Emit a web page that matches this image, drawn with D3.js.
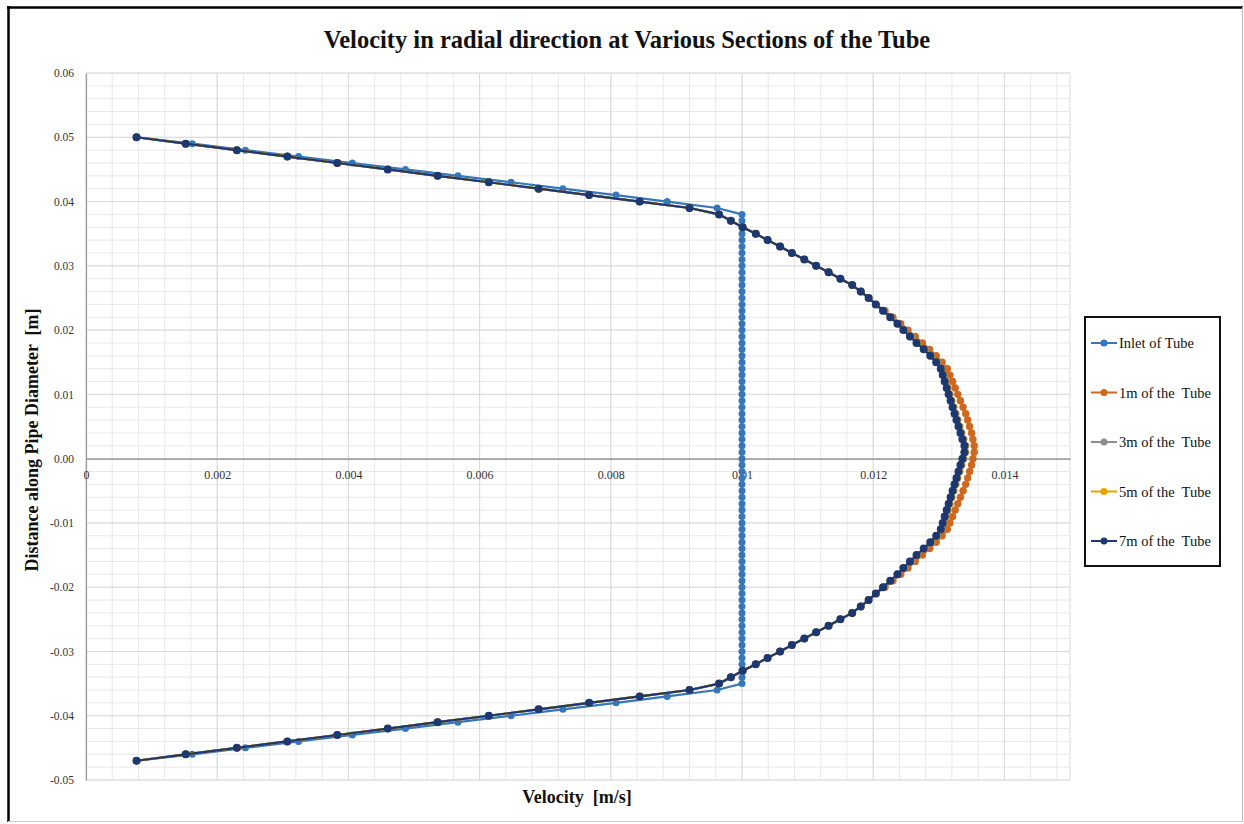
<!DOCTYPE html>
<html>
<head>
<meta charset="utf-8">
<script src="https://cdn.jsdelivr.net/npm/d3@7"></script>
<style>
  html, body { margin: 0; padding: 0; background: #fff; }
  svg { display: block; }
</style>
</head>
<body>
<svg id="chart" width="1244" height="824"></svg>
<script>
// ---------------- DATA ----------------
const seriesNames = ["Inlet of Tube", "1m of the  Tube", "3m of the  Tube", "5m of the  Tube", "7m of the  Tube"];
const seriesColors = ["#3577b8", "#d0671f", "#8e8e8e", "#e3a500", "#1d3870"];

// position along pipe diameter [m]
const positions = [
  0.050,0.049,0.048,0.047,0.046,0.045,0.044,0.043,0.042,0.041,
  0.040,0.039,0.038,0.037,0.036,0.035,0.034,0.033,0.032,0.031,
  0.030,0.029,0.028,0.027,0.026,0.025,0.024,0.023,0.022,0.021,
  0.020,0.019,0.018,0.017,0.016,0.015,0.014,0.013,0.012,0.011,
  0.010,0.009,0.008,0.007,0.006,0.005,0.004,0.003,0.002,0.001,
  0.000,-0.001,-0.002,-0.003,-0.004,-0.005,-0.006,-0.007,-0.008,-0.009,
  -0.010,-0.011,-0.012,-0.013,-0.014,-0.015,-0.016,-0.017,-0.018,-0.019,
  -0.020,-0.021,-0.022,-0.023,-0.024,-0.025,-0.026,-0.027,-0.028,-0.029,
  -0.030,-0.031,-0.032,-0.033,-0.034,-0.035,-0.036,-0.037,-0.038,-0.039,
  -0.040,-0.041,-0.042,-0.043,-0.044,-0.045,-0.046,-0.047
];

const velInlet = [
  0.00077,0.00162,0.00243,0.00324,0.00406,0.00487,0.00567,0.00648,0.00727,0.00808,
  0.00886,0.00962,0.0100,0.0100,0.0100,0.0100,0.0100,0.0100,0.0100,0.0100,
  0.0100,0.0100,0.0100,0.0100,0.0100,0.0100,0.0100,0.0100,0.0100,0.0100,
  0.0100,0.0100,0.0100,0.0100,0.0100,0.0100,0.0100,0.0100,0.0100,0.0100,
  0.0100,0.0100,0.0100,0.0100,0.0100,0.0100,0.0100,0.0100,0.0100,0.0100,
  0.0100,0.0100,0.0100,0.0100,0.0100,0.0100,0.0100,0.0100,0.0100,0.0100,
  0.0100,0.0100,0.0100,0.0100,0.0100,0.0100,0.0100,0.0100,0.0100,0.0100,
  0.0100,0.0100,0.0100,0.0100,0.0100,0.0100,0.0100,0.0100,0.0100,0.0100,
  0.0100,0.0100,0.0100,0.0100,0.0100,0.0100,0.00962,0.00886,0.00808,0.00727,
  0.00648,0.00567,0.00487,0.00406,0.00324,0.00243,0.00162,0.00077
];

const vel1m = [
  0.00077,0.00152,0.00230,0.00307,0.00383,0.00460,0.00536,0.00614,0.00690,0.00767,
  0.00844,0.00920,0.00965,0.00983,0.01001,0.01021,0.01039,0.01058,0.01076,0.01095,
  0.01113,0.01132,0.01150,0.01168,0.01181,0.01193,0.01204,0.01218,0.01230,0.01242,
  0.01253,0.01264,0.01275,0.01286,0.01296,0.01305,0.01313,0.01317,0.01321,0.01325,
  0.01329,0.01333,0.01337,0.01341,0.01344,0.01347,0.01350,0.01352,0.01354,0.01354,
  0.01352,0.01350,0.01347,0.01344,0.01341,0.01337,0.01333,0.01329,0.01325,0.01321,
  0.01317,0.01313,0.01305,0.01296,0.01286,0.01275,0.01264,0.01253,0.01242,0.01230,
  0.01218,0.01204,0.01193,0.01181,0.01168,0.01150,0.01132,0.01113,0.01095,0.01076,
  0.01058,0.01039,0.01021,0.01001,0.00983,0.00965,0.00920,0.00844,0.00767,0.00690,
  0.00614,0.00536,0.00460,0.00383,0.00307,0.00230,0.00152,0.00077
];

const vel3m = [
  0.00077,0.00152,0.00230,0.00307,0.00383,0.00460,0.00536,0.00614,0.00690,0.00767,
  0.00844,0.00920,0.00965,0.00983,0.01001,0.01021,0.01039,0.01058,0.01076,0.01095,
  0.01113,0.01132,0.01150,0.01168,0.01181,0.01193,0.01204,0.01216,0.01227,0.01238,
  0.01248,0.01258,0.01268,0.01279,0.01289,0.01298,0.01305,0.01308,0.01311,0.01314,
  0.01317,0.01320,0.01323,0.01326,0.01329,0.01332,0.01335,0.01338,0.01341,0.01341,
  0.01338,0.01335,0.01332,0.01329,0.01326,0.01323,0.01320,0.01317,0.01314,0.01311,
  0.01308,0.01305,0.01298,0.01289,0.01279,0.01268,0.01258,0.01248,0.01238,0.01227,
  0.01216,0.01204,0.01193,0.01181,0.01168,0.01150,0.01132,0.01113,0.01095,0.01076,
  0.01058,0.01039,0.01021,0.01001,0.00983,0.00965,0.00920,0.00844,0.00767,0.00690,
  0.00614,0.00536,0.00460,0.00383,0.00307,0.00230,0.00152,0.00077
];

const vel5m = [
  0.00077,0.00152,0.00230,0.00307,0.00383,0.00460,0.00536,0.00614,0.00690,0.00767,
  0.00844,0.00920,0.00965,0.00983,0.01001,0.01021,0.01039,0.01058,0.01076,0.01095,
  0.01113,0.01132,0.01150,0.01168,0.01181,0.01193,0.01204,0.01215,0.01226,0.01237,
  0.01247,0.01257,0.01267,0.01278,0.01288,0.01297,0.01304,0.01307,0.01310,0.01313,
  0.01316,0.01319,0.01322,0.01325,0.01328,0.01331,0.01334,0.01337,0.01340,0.01340,
  0.01337,0.01334,0.01331,0.01328,0.01325,0.01322,0.01319,0.01316,0.01313,0.01310,
  0.01307,0.01304,0.01297,0.01288,0.01278,0.01267,0.01257,0.01247,0.01237,0.01226,
  0.01215,0.01204,0.01193,0.01181,0.01168,0.01150,0.01132,0.01113,0.01095,0.01076,
  0.01058,0.01039,0.01021,0.01001,0.00983,0.00965,0.00920,0.00844,0.00767,0.00690,
  0.00614,0.00536,0.00460,0.00383,0.00307,0.00230,0.00152,0.00077
];

const vel7m = [
  0.00077,0.00152,0.00230,0.00307,0.00383,0.00460,0.00536,0.00614,0.00690,0.00767,
  0.00844,0.00920,0.00965,0.00983,0.01001,0.01021,0.01039,0.01058,0.01076,0.01095,
  0.01113,0.01132,0.01150,0.01168,0.01181,0.01193,0.01204,0.01215,0.01226,0.01237,
  0.01246,0.01256,0.01266,0.01277,0.01287,0.01296,0.01303,0.01306,0.01309,0.01312,
  0.01315,0.01318,0.01321,0.01324,0.01327,0.01330,0.01333,0.01336,0.01339,0.01339,
  0.01336,0.01333,0.01330,0.01327,0.01324,0.01321,0.01318,0.01315,0.01312,0.01309,
  0.01306,0.01303,0.01296,0.01287,0.01277,0.01266,0.01256,0.01246,0.01237,0.01226,
  0.01215,0.01204,0.01193,0.01181,0.01168,0.01150,0.01132,0.01113,0.01095,0.01076,
  0.01058,0.01039,0.01021,0.01001,0.00983,0.00965,0.00920,0.00844,0.00767,0.00690,
  0.00614,0.00536,0.00460,0.00383,0.00307,0.00230,0.00152,0.00077
];

const xTickValues = [0, 0.002, 0.004, 0.006, 0.008, 0.01, 0.012, 0.014];
const xTickLabels = ["0", "0.002", "0.004", "0.006", "0.008", "0.01", "0.012", "0.014"];
const yTickValues = [0.06, 0.05, 0.04, 0.03, 0.02, 0.01, 0.00, -0.01, -0.02, -0.03, -0.04, -0.05];
const yTickLabels = ["0.06", "0.05", "0.04", "0.03", "0.02", "0.01", "0.00", "-0.01", "-0.02", "-0.03", "-0.04", "-0.05"];

const titleText = "Velocity in radial direction at Various Sections of the Tube";
const xTitle = "Velocity  [m/s]";
const yTitle = "Distance along Pipe Diameter  [m]";

// ---------------- CHART ----------------
const serif = "'Liberation Serif', 'Times New Roman', serif";
const svg = d3.select("#chart");
svg.append("rect").attr("width", 1244).attr("height", 824).attr("fill", "#fff");

const plot = { left: 86, right: 1070, top: 73, bottom: 780 };
const x = d3.scaleLinear().domain([0, 0.015]).range([plot.left, plot.right]);
const y = d3.scaleLinear().domain([-0.05, 0.06]).range([plot.bottom, plot.top]);

// gridlines (minor, then major)
const grid = svg.append("g");
const xMinor = d3.range(0, 0.015 + 1e-9, 0.0004);
const yMinor = d3.range(-0.05, 0.06 + 1e-9, 0.002);
grid.selectAll(".vx").data(xMinor).join("line")
  .attr("x1", d => x(d)).attr("x2", d => x(d))
  .attr("y1", plot.top).attr("y2", plot.bottom)
  .attr("stroke", "#e8e8e8").attr("stroke-width", 1);
grid.selectAll(".hy").data(yMinor).join("line")
  .attr("y1", d => y(d)).attr("y2", d => y(d))
  .attr("x1", plot.left).attr("x2", plot.right)
  .attr("stroke", "#e8e8e8").attr("stroke-width", 1);
grid.selectAll(".vX").data(xTickValues.concat([0.015])).join("line")
  .attr("x1", d => x(d)).attr("x2", d => x(d))
  .attr("y1", plot.top).attr("y2", plot.bottom)
  .attr("stroke", "#dadada").attr("stroke-width", 1);
grid.selectAll(".hY").data(yTickValues).join("line")
  .attr("y1", d => y(d)).attr("y2", d => y(d))
  .attr("x1", plot.left).attr("x2", plot.right)
  .attr("stroke", "#dadada").attr("stroke-width", 1);

// y axis
const yAxis = svg.append("g").attr("transform", `translate(${plot.left},0)`)
  .call(d3.axisLeft(y).tickValues(yTickValues).tickFormat((d, i) => yTickLabels[i]).tickSize(0).tickPadding(12));
yAxis.select(".domain").attr("stroke", "#9a9a9a").attr("stroke-width", 1.2);
yAxis.selectAll("text").attr("font-family", serif).attr("font-size", 11.5).attr("fill", "#333");

// x axis at zero
const xAxis = svg.append("g").attr("transform", `translate(0,${y(0)})`)
  .call(d3.axisBottom(x).tickValues(xTickValues).tickFormat((d, i) => xTickLabels[i]).tickSize(0).tickSizeOuter(0).tickPadding(12));
xAxis.select(".domain").attr("stroke", "#8a8a8a").attr("stroke-width", 1.2);
xAxis.selectAll("text").attr("font-family", serif).attr("font-size", 12).attr("fill", "#333");

// series
const allVel = [velInlet, vel1m, vel3m, vel5m, vel7m];
const series = seriesNames.map((name, k) => ({
  name, color: seriesColors[k],
  values: positions.map((p, i) => ({ p, v: allVel[k][i] }))
}));
const line = d3.line().x(d => x(d.v)).y(d => y(d.p));
const radius = [3.5, 3.7, 3.7, 3.7, 4.0];
const sg = svg.append("g");
series.forEach((s, k) => {
  const g = sg.append("g");
  g.append("path").datum(s.values).attr("d", line)
    .attr("fill", "none").attr("stroke", s.color).attr("stroke-width", 2.2);
  g.selectAll("circle").data(s.values).join("circle")
    .attr("cx", d => x(d.v)).attr("cy", d => y(d.p)).attr("r", radius[k])
    .attr("fill", s.color);
});

// legend
const lg = svg.append("g");
lg.append("rect").attr("x", 1085).attr("y", 317).attr("width", 135).attr("height", 249)
  .attr("fill", "#fff").attr("stroke", "#111").attr("stroke-width", 2);
const legendY = d3.scalePoint().domain(seriesNames).range([343, 541]);
series.forEach(s => {
  const yy = legendY(s.name);
  lg.append("line").attr("x1", 1091).attr("x2", 1117).attr("y1", yy).attr("y2", yy)
    .attr("stroke", s.color).attr("stroke-width", 2);
  lg.append("circle").attr("cx", 1104).attr("cy", yy).attr("r", 3.5).attr("fill", s.color);
  lg.append("text").attr("x", 1119).attr("y", yy + 5).text(s.name)
    .attr("font-family", serif).attr("font-size", 14.5).attr("fill", "#111")
    .style("white-space", "pre");
});

// titles
svg.append("text").attr("x", 627).attr("y", 48).attr("text-anchor", "middle")
  .attr("font-family", serif).attr("font-weight", "bold").attr("font-size", 24.5).attr("fill", "#111")
  .text(titleText);
svg.append("text").attr("x", 577).attr("y", 803).attr("text-anchor", "middle")
  .attr("font-family", serif).attr("font-weight", "bold").attr("font-size", 18).attr("fill", "#111")
  .style("white-space", "pre").text(xTitle);
svg.append("text").attr("transform", "translate(38,440) rotate(-90)").attr("text-anchor", "middle")
  .attr("font-family", serif).attr("font-weight", "bold").attr("font-size", 18).attr("fill", "#111")
  .style("white-space", "pre").text(yTitle);

// outer frame
svg.append("line").attr("x1", 8.5).attr("x2", 8.5).attr("y1", 6).attr("y2", 822).attr("stroke", "#000").attr("stroke-width", 2.5);
svg.append("line").attr("x1", 7).attr("x2", 1243).attr("y1", 7.5).attr("y2", 7.5).attr("stroke", "#000").attr("stroke-width", 2.5);
svg.append("line").attr("x1", 1242.5).attr("x2", 1242.5).attr("y1", 7).attr("y2", 822).attr("stroke", "#bbb").attr("stroke-width", 1);
svg.append("line").attr("x1", 8).attr("x2", 1243).attr("y1", 821.5).attr("y2", 821.5).attr("stroke", "#ccc").attr("stroke-width", 1);
</script>
</body>
</html>
